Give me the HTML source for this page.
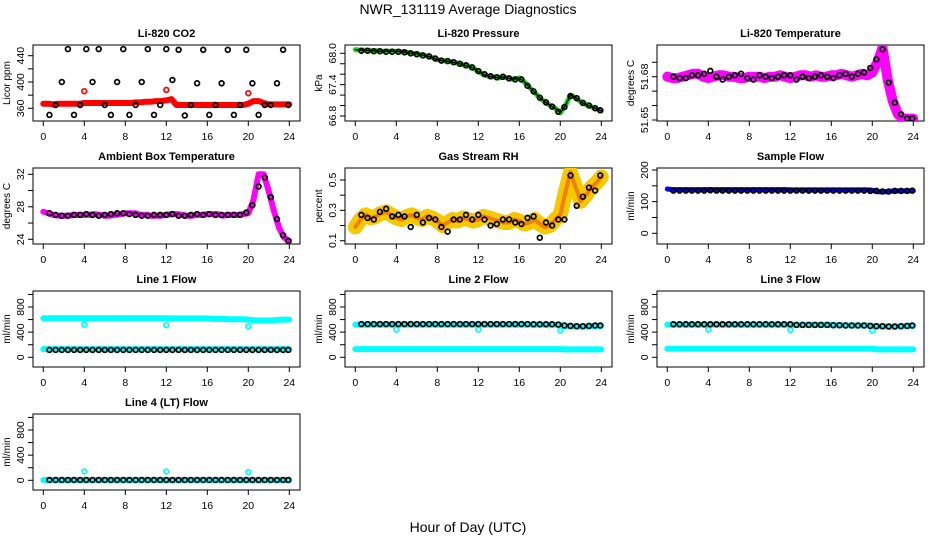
<!DOCTYPE html>
<html><head><meta charset="utf-8"><title>NWR_131119 Average Diagnostics</title>
<style>
html,body{margin:0;padding:0;background:#fff;}
svg{display:block;font-family:"Liberation Sans",Arial,sans-serif;}
</style></head>
<body>
<svg id="chart" width="936" height="540" viewBox="0 0 936 540" xmlns="http://www.w3.org/2000/svg">
<rect x="0" y="0" width="936" height="540" fill="#fff"/>
<text x="468" y="14" font-size="14" text-anchor="middle">NWR_131119  Average Diagnostics</text>
<text x="468" y="532" font-size="14" text-anchor="middle">Hour of Day (UTC)</text>
<g id="panels"></g>
</svg>
<script>
// ---- shared hours ----
const denseHours = [0,0.5,1,1.5,2,2.5,3,3.5,4,4.5,5,5.5,6,6.5,7,7.5,8,8.5,9,9.5,10,10.5,11,11.5,12,12.5,13,13.5,14,14.5,15,15.5,16,16.5,17,17.5,18,18.5,19,19.5,20,20.5,21,21.5,22,22.5,23,23.5,24];
const blackHours = [0.6,1.2,1.8,2.4,3.0,3.6,4.2,4.8,5.4,6.0,6.6,7.2,7.8,8.4,9.0,9.6,10.2,10.8,11.4,12.0,12.6,13.2,13.8,14.4,15.0,15.6,16.2,16.8,17.4,18.0,18.6,19.2,19.8,20.4,21.0,21.6,22.2,22.8,23.4,23.9];
const outlierHours = [4,12,20];
const xTickValues = [0,4,8,12,16,20,24];

// ---- CO2 ----
const co2Red = [367,367,366,367,367,367,367,367,368,368,368,368,368,368,368,368,368,368,369,369,370,370,371,371,372,374,365,365,365,365,365,365,365,365,365,365,365,365,365,365,367,371,371,368,366,366,366,366,366];
const co2Black = [350,365,400,450,350,365,450,400,450,365,350,400,450,350,365,400,450,350,365,450,403,449,349,365,398,449,350,365,398,449,350,365,449,398,350,365,365,398,449,365];
const co2Outliers = [386,388,383];
// ---- Pressure ----
const presGreen = [68.07,68.06,68.06,68.05,68.05,68.04,68.04,68.04,68.04,68.03,68.02,68.0,67.99,67.97,67.95,67.92,67.88,67.86,67.85,67.83,67.81,67.78,67.76,67.72,67.65,67.6,67.56,67.55,67.53,67.55,67.52,67.5,67.53,67.45,67.35,67.25,67.15,67.07,67.0,66.95,66.86,67.0,67.2,67.15,67.07,67.02,66.98,66.94,66.9];
const presBlack = [68.05,68.05,68.04,68.04,68.03,68.03,68.03,68.02,68.0,67.98,67.96,67.94,67.9,67.86,67.85,67.83,67.8,67.77,67.73,67.66,67.6,67.56,67.54,67.55,67.52,67.5,67.5,67.38,67.27,67.15,67.06,66.98,66.88,66.97,67.18,67.14,67.05,67.0,66.95,66.91];
// ---- Li-820 Temperature ----
const tempMagenta = [51.680,51.679,51.679,51.680,51.681,51.682,51.682,51.680,51.679,51.680,51.681,51.681,51.680,51.680,51.679,51.679,51.680,51.680,51.680,51.679,51.680,51.680,51.681,51.680,51.679,51.680,51.681,51.681,51.680,51.681,51.680,51.680,51.681,51.681,51.682,51.681,51.680,51.681,51.682,51.681,51.683,51.690,51.700,51.678,51.663,51.654,51.651,51.651,51.651];
const tempBlack = [51.680,51.679,51.679,51.681,51.681,51.682,51.684,51.680,51.678,51.680,51.681,51.682,51.679,51.678,51.681,51.680,51.679,51.680,51.681,51.681,51.678,51.680,51.679,51.680,51.681,51.680,51.679,51.681,51.682,51.680,51.682,51.683,51.686,51.692,51.699,51.676,51.662,51.654,51.651,51.651];
// ---- Ambient ----
const ambMagenta = [27.4,27.2,27.0,26.9,26.9,26.9,27.0,27.0,27.0,27.0,27.1,27.0,26.9,26.9,27.0,27.1,27.2,27.2,27.2,27.0,27.0,26.9,26.9,26.9,27.0,27.1,27.1,27.0,26.9,26.9,27.0,27.0,27.1,27.1,27.1,26.9,27.0,27.0,27.0,27.1,27.2,28.8,32.0,32.0,29.9,27.5,25.4,24.2,23.8];
const ambBlack = [27.2,27.0,26.9,26.9,27.0,27.0,27.1,27.0,26.9,27.0,27.1,27.2,27.2,27.1,27.0,26.9,26.9,27.0,27.0,27.0,27.1,26.9,26.9,27.0,27.1,27.0,27.1,27.0,27.0,27.0,27.0,27.0,27.3,28.2,30.5,31.6,29.2,26.5,24.5,23.8];
// ---- RH ----
const rhOrange = [0.19,0.24,0.27,0.25,0.26,0.28,0.29,0.27,0.25,0.24,0.26,0.27,0.25,0.24,0.26,0.25,0.23,0.20,0.22,0.24,0.23,0.25,0.24,0.23,0.24,0.26,0.25,0.24,0.23,0.22,0.22,0.24,0.23,0.21,0.22,0.24,0.21,0.19,0.20,0.24,0.27,0.42,0.55,0.45,0.36,0.40,0.45,0.48,0.52];
const rhBlack = [0.27,0.25,0.24,0.29,0.31,0.26,0.27,0.26,0.19,0.27,0.22,0.25,0.24,0.19,0.16,0.24,0.24,0.27,0.24,0.27,0.24,0.20,0.21,0.24,0.24,0.22,0.21,0.25,0.26,0.12,0.22,0.20,0.24,0.24,0.53,0.33,0.39,0.45,0.43,0.53];
// ---- Sample flow ----
const sampleBlue = [140,138,138,138,138,138,138,138,138,138,138,138,138,138,138,138,138,138,138,138,138,138,138,138,137,137,137,137,137,137,137,137,137,137,137,137,137,137,137,137,136,131,131,131,134,134,134,134,134];
const sampleBlack = [135,135,135,135,135,135,136,135,135,135,135,135,135,135,135,135,135,135,135,135,135,135,135,135,135,135,135,135,135,135,135,135,134,134,132,132,134,134,134,135];
// ---- Line flows ----
const l1Upper = [620,620,620,620,620,620,620,620,620,620,620,620,620,620,620,620,620,620,620,620,620,620,620,620,620,618,618,618,618,618,618,618,618,610,610,610,605,605,605,605,600,590,585,585,585,590,595,600,600];
const l1Lower = [130,130,130,130,130,130,130,130,130,130,130,130,130,130,130,130,130,130,130,130,130,130,130,130,130,130,130,130,130,130,130,130,130,130,130,130,130,130,130,130,130,130,130,130,130,130,130,130,130];
const l1Black = [118,118,118,118,118,118,118,118,118,118,118,118,118,118,118,118,118,118,118,118,118,118,118,118,118,118,118,118,118,118,118,118,118,118,118,118,118,118,118,118];
const l1Outliers = [520,510,495];
const l2Upper = [520,520,520,520,520,520,520,520,520,520,520,520,520,520,520,520,520,520,520,520,520,520,520,520,520,520,520,520,520,520,520,520,520,520,520,520,520,520,520,520,515,500,490,490,490,490,495,500,500];
const l2Lower = [130,130,130,130,130,130,130,130,130,130,130,130,130,130,130,130,130,130,130,130,130,130,130,130,130,130,130,130,130,130,130,130,130,130,130,130,130,130,130,130,130,125,125,125,125,125,125,125,125];
const l2Black = [528,528,528,528,528,528,528,528,528,528,528,528,528,528,528,528,528,528,528,528,528,528,528,528,528,528,528,528,525,525,525,525,520,505,500,495,495,500,505,505];
const l2Outliers = [440,440,430];
const l3Upper = [520,520,520,520,520,520,520,520,520,520,520,520,520,520,520,520,520,520,520,520,520,520,520,520,520,515,515,515,515,515,515,515,515,510,510,510,505,505,505,505,500,495,490,490,490,490,495,500,500];
const l3Lower = [135,135,135,135,135,135,135,135,135,135,135,135,135,135,135,135,135,135,135,135,135,135,135,135,135,135,135,135,135,135,135,135,135,135,135,135,135,135,135,135,135,125,125,125,125,125,125,125,125];
const l3Black = [525,525,525,525,525,525,525,525,525,525,525,525,525,525,525,525,525,525,525,525,515,515,515,515,515,515,510,510,505,505,505,505,500,495,495,490,490,495,500,505];
const l3Outliers = [440,435,425];
const l4Cyan = [5,5,5,5,5,5,5,5,5,5,5,5,5,5,5,5,5,5,5,5,5,5,5,5,5,5,5,5,5,5,5,5,5,5,5,5,5,5,5,5,5,5,5,5,5,5,5,5,5];
const l4Black = [5,5,5,5,5,5,5,5,5,5,5,5,5,5,5,5,5,5,5,5,5,5,5,5,5,5,5,5,5,5,5,5,5,5,5,5,5,5,5,5];
const l4Outliers = [140,140,130];

// ---- y tick arrays ----
const co2Ticks=[360,380,400,420,440], co2Labels=["360","","400","","440"];
const presTicks=[66.8,67.0,67.2,67.4,67.6,67.8,68.0], presLabels=["66.8","","","67.4","","","68.0"];
const tempTicks=[51.65,51.66,51.67,51.68,51.69], tempLabels=["51.65","","","51.68",""];
const ambTicks=[24,26,28,30,32], ambLabels=["24","","28","","32"];
const rhTicks=[0.1,0.2,0.3,0.4,0.5], rhLabels=["0.1","","0.3","","0.5"];
const sampleTicks=[0,50,100,150,200], sampleLabels=["0","","100","","200"];
const flowTicks=[0,200,400,600,800,1000], flowLabels=["0","","400","","800",""];

const NS="http://www.w3.org/2000/svg";
const root=document.getElementById('panels');
function mk(tag,attrs,parent){const e=document.createElementNS(NS,tag);for(const k in attrs)e.setAttribute(k,attrs[k]);(parent||root).appendChild(e);return e;}

const BOXW=267, BOXH=76;
function makePanel(col,row,title,ylab,ref,ticks,labels,slug){
  const bx=33+312*col, by=45+123*row;
  const g=mk('g',{});
  
  
  const xs=h=>bx+10.3+h*10.25;
  const ys=v=>by+ref[1]+(v-ref[0])*(ref[3]-ref[1])/(ref[2]-ref[0]);
  const box=mk('rect',{x:bx,y:by,width:BOXW,height:BOXH,fill:'none',stroke:'#000','stroke-width':1},g);
  
  
  const t=mk('text',{x:bx+BOXW/2,y:by-8,'font-size':11,'font-weight':'bold','text-anchor':'middle'},g);
  t.textContent=title;
  
  
  const yl=mk('text',{x:0,y:0,'font-size':10,'text-anchor':'middle',transform:`translate(${bx-23},${by+BOXH/2}) rotate(-90)`},g);
  yl.textContent=ylab;
  
  
  const xa=mk('g',{},g);
  
  
  mk('line',{x1:xs(xTickValues[0]),x2:xs(xTickValues[xTickValues.length-1]),y1:by+BOXH,y2:by+BOXH,stroke:'#000'},xa);
  xTickValues.forEach(v=>{
    mk('line',{x1:xs(v),x2:xs(v),y1:by+BOXH,y2:by+BOXH+5,stroke:'#000'},xa);
    const tl=mk('text',{x:xs(v),y:by+BOXH+19,'font-size':10.5,'text-anchor':'middle'},xa);
    tl.textContent=String(v);
  });
  const ya=mk('g',{},g);
  
  
  mk('line',{x1:bx,x2:bx,y1:ys(ticks[0]),y2:ys(ticks[ticks.length-1]),stroke:'#000'},ya);
  ticks.forEach((v,i)=>{
    mk('line',{x1:bx-5,x2:bx,y1:ys(v),y2:ys(v),stroke:'#000'},ya);
    if(labels[i]){
      const tl=mk('text',{x:0,y:0,'font-size':10.5,'text-anchor':'middle',transform:`translate(${bx-9},${ys(v)}) rotate(-90)`},ya);
      tl.textContent=labels[i];
    }
  });
  const clip='clip'+slug;
  const cp=mk('clipPath',{id:clip},g);
  mk('rect',{x:bx,y:by,width:BOXW,height:BOXH},cp);
  const plot=mk('g',{'clip-path':`url(#${clip})`},g);
  return {xs,ys,plot};
}
function band(p,hours,vals,color,width,name){
  const pts=hours.map((h,i)=>p.xs(h).toFixed(1)+','+p.ys(vals[i]).toFixed(1)).join(' ');
  const pl=mk('polyline',{points:pts,fill:'none',stroke:color,'stroke-width':width,'stroke-linejoin':'round','stroke-linecap':'round'},p.plot);
  
  
}
function dots(p,hours,vals,color,name,r,sw){
  const g=mk('g',{},p.plot);
  
  
  hours.forEach((h,i)=>{
    mk('circle',{cx:p.xs(h).toFixed(1),cy:p.ys(vals[i]).toFixed(1),r:r||2.4,fill:'none',stroke:color,'stroke-width':sw||1.7},g);
  });
}

let p=makePanel(0,0,'Li-820 CO2','Licor ppm',[440,10.7,360,63.3],co2Ticks,co2Labels,'co2');
band(p,denseHours,co2Red,'#ff0000',6,'co2-red-series');
dots(p,outlierHours,co2Outliers,'#ff0000','co2-red-outliers');
dots(p,blackHours,co2Black,'#000','co2-black-points');

p=makePanel(1,0,'Li-820 Pressure','kPa',[68.0,8.3,66.8,71],presTicks,presLabels,'pressure');
band(p,denseHours,presGreen,'#00ee00',5,'pressure-green-series');
band(p,denseHours,presGreen,'#000',1.5,'pressure-green-core');
dots(p,blackHours,presBlack,'#000','pressure-black-points');

p=makePanel(2,0,'Li-820 Temperature','degrees C',[51.68,31.7,51.65,75],tempTicks,tempLabels,'li820-temp');
band(p,denseHours,tempMagenta,'#ff00ff',10,'li820-temp-magenta-series');
dots(p,blackHours,tempBlack,'#000','li820-temp-black-points');

p=makePanel(0,1,'Ambient Box Temperature','degrees C',[32,6.3,24,71.3],ambTicks,ambLabels,'ambient');
band(p,denseHours,ambMagenta,'#ff00ff',6,'ambient-magenta-series');
dots(p,blackHours,ambBlack,'#000','ambient-black-points');

p=makePanel(1,1,'Gas Stream RH','percent',[0.5,12,0.1,72.7],rhTicks,rhLabels,'rh');
band(p,denseHours,rhOrange,'#f5c800',15,'rh-yellow-band');
band(p,denseHours,rhOrange,'#f08000',4,'rh-orange-series');
dots(p,blackHours,rhBlack,'#000','rh-black-points');

p=makePanel(2,1,'Sample Flow','ml/min',[200,2,0,65.3],sampleTicks,sampleLabels,'sample-flow');
band(p,denseHours,sampleBlue,'#0000ff',5,'sample-flow-blue-series');
dots(p,blackHours,sampleBlack,'#000','sample-flow-black-points');

p=makePanel(0,2,'Line 1 Flow','ml/min',[800,16,0,66.3],flowTicks,flowLabels,'line1');
band(p,denseHours,l1Upper,'#00ffff',6,'line1-cyan-upper');
band(p,denseHours,l1Lower,'#00ffff',6,'line1-cyan-lower');
dots(p,outlierHours,l1Outliers,'#00ffff','line1-cyan-outliers');
dots(p,blackHours,l1Black,'#000','line1-black-points');

p=makePanel(1,2,'Line 2 Flow','ml/min',[800,16,0,66.3],flowTicks,flowLabels,'line2');
band(p,denseHours,l2Upper,'#00ffff',6,'line2-cyan-upper');
band(p,denseHours,l2Lower,'#00ffff',6,'line2-cyan-lower');
dots(p,outlierHours,l2Outliers,'#00ffff','line2-cyan-outliers');
dots(p,blackHours,l2Black,'#000','line2-black-points');

p=makePanel(2,2,'Line 3 Flow','ml/min',[800,16,0,66.3],flowTicks,flowLabels,'line3');
band(p,denseHours,l3Upper,'#00ffff',6,'line3-cyan-upper');
band(p,denseHours,l3Lower,'#00ffff',6,'line3-cyan-lower');
dots(p,outlierHours,l3Outliers,'#00ffff','line3-cyan-outliers');
dots(p,blackHours,l3Black,'#000','line3-black-points');

p=makePanel(0,3,'Line 4 (LT) Flow','ml/min',[800,16,0,66.3],flowTicks,flowLabels,'line4');
band(p,denseHours,l4Cyan,'#00ffff',6,'line4-cyan-series');
dots(p,outlierHours,l4Outliers,'#00ffff','line4-cyan-outliers');
dots(p,blackHours,l4Black,'#000','line4-black-points');
</script>
</body></html>
